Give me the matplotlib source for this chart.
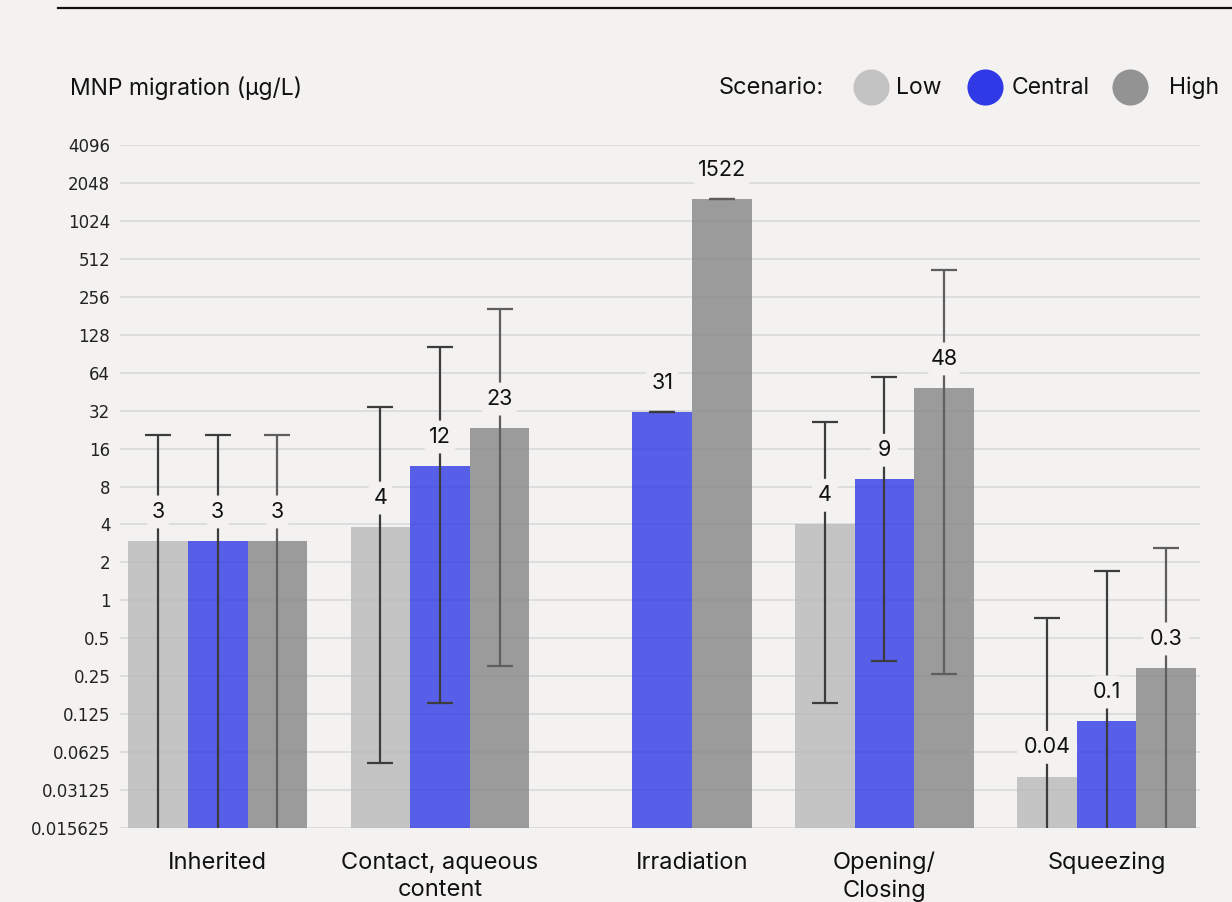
import numpy as np
import matplotlib
matplotlib.use("Agg")
import matplotlib.pyplot as plt
from matplotlib.lines import Line2D

plt.rcParams['font.family'] = ['Inter', 'DejaVu Sans']

# --- data ---
categories = ["Inherited", "Contact, aqueous\ncontent", "Irradiation", "Opening/\nClosing", "Squeezing"]
scenarios = ["Low", "Central", "High"]

low_vals = [2.95, 3.8, np.nan, 4.0, 0.04]
central_vals = [2.95, 11.6, 31, 9.1, 0.11]
high_vals = [2.95, 23.2, 1522, 48.3, 0.29]

low_labels = ["3", "4", "", "4", "0.04"]
central_labels = ["3", "12", "31", "9", "0.1"]
high_labels = ["3", "23", "1522", "48", "0.3"]

# uncertainty range (lower, upper)
low_err_lo = [0.005, 0.051, np.nan, 0.152, 0.005]
low_err_hi = [20.4, 34, np.nan, 26, 0.72]
central_err_lo = [0.005, 0.152, 31, 0.33, 0.005]
central_err_hi = [20.4, 102, 31, 59, 1.7]
high_err_lo = [0.005, 0.30, 1522, 0.26, 0.014]
high_err_hi = [20.4, 205, 1522, 417, 2.6]

ytick_vals = [2.0 ** e for e in range(-6, 13)]
ytick_labels = ["0.015625", "0.03125", "0.0625", "0.125", "0.25", "0.5", "1", "2", "4",
                "8", "16", "32", "64", "128", "256", "512", "1024", "2048", "4096"]

BG = "#f3f2f0"
bar_colors = ["#bab9b9", "#3039e6", "#868686"]
legend_colors = ["#c4c3c3", "#3039e6", "#939393"]
err_colors = ["#3c3c3c", "#3c3c3c", "#5e5e5e"]

W, H = 1232, 902
fig = plt.figure(figsize=(W / 100, H / 100), dpi=100, facecolor=BG)
ax = fig.add_axes([120 / W, 1 - 828 / H, (1200 - 120) / W, (828 - 145) / H])
ax.set_facecolor(BG)

x = np.arange(len(categories))
bw = 0.268
series = [
    (low_vals, low_labels, low_err_lo, low_err_hi),
    (central_vals, central_labels, central_err_lo, central_err_hi),
    (high_vals, high_labels, high_err_lo, high_err_hi),
]

for i, (vals, labels, elo, ehi) in enumerate(series):
    vals = np.array(vals, dtype=float)
    xs = x + (i - 1) * bw
    ok = ~np.isnan(vals)
    ax.bar(xs[ok], vals[ok], width=bw, color=bar_colors[i], alpha=0.8, zorder=2, linewidth=0)
    lo = np.array(elo, dtype=float)[ok]
    hi = np.array(ehi, dtype=float)[ok]
    v = vals[ok]
    ax.errorbar(xs[ok], v, yerr=[v - lo, hi - v], fmt="none", ecolor=err_colors[i],
                elinewidth=1.6, capsize=9.5, capthick=1.6, zorder=3)
    for xi, vi, lab in zip(xs[ok], v, np.array(labels)[ok]):
        ax.annotate(lab, (xi, vi), xytext=(0, 21), textcoords="offset points",
                    ha="center", va="center", fontsize=15.5, color="#111111", zorder=5,
                    bbox=dict(boxstyle="round,pad=0.3,rounding_size=0.6", fc=BG, ec="none"))

ax.set_yscale("log", base=2)
ax.set_ylim(2.0 ** -6, 2.0 ** 12)
ax.set_yticks(ytick_vals)
ax.set_yticklabels(ytick_labels, fontfamily="DejaVu Sans", fontsize=12, color="#222222")
ax.yaxis.set_minor_locator(matplotlib.ticker.NullLocator())
ax.tick_params(axis="y", length=0, pad=7)
ax.grid(axis="y", color="#d6d9d9", linewidth=1.1, zorder=0)
ax.set_axisbelow(True)

# category labels; Irradiation centred on its two bars
tick_pos = x.astype(float).copy()
tick_pos[2] += bw / 2
ax.set_xticks(tick_pos)
ax.set_xticklabels(categories, fontsize=17, color="#111111", linespacing=1.3)
ax.tick_params(axis="x", length=0, pad=17)
ax.set_xlim(-0.44, 4.42)
for s in ax.spines.values():
    s.set_visible(False)

# header rule
fig.add_artist(Line2D([58 / W, 1.0], [1 - 8 / H, 1 - 8 / H], transform=fig.transFigure,
                      color="#111111", linewidth=1.6))

fig.text(70 / W, 1 - 88 / H, "MNP migration (µg/L)", fontsize=16.5, color="#111111", va="center")

# legend
ly = 1 - 88 / H
fig.text(719 / W, ly, "Scenario:", fontsize=17, color="#111111", va="center")
circle_x = [871, 985, 1130]
text_x = [896, 1012, 1169]
for cx, tx, name, c in zip(circle_x, text_x, scenarios, legend_colors):
    fig.add_artist(Line2D([cx / W], [1 - 87 / H], marker="o", markersize=26, color=c,
                          markeredgewidth=0, transform=fig.transFigure))
    fig.text(tx / W, ly, name, fontsize=16.5, color="#111111", va="center")

fig.savefig("out.png", dpi=100, facecolor=BG)
